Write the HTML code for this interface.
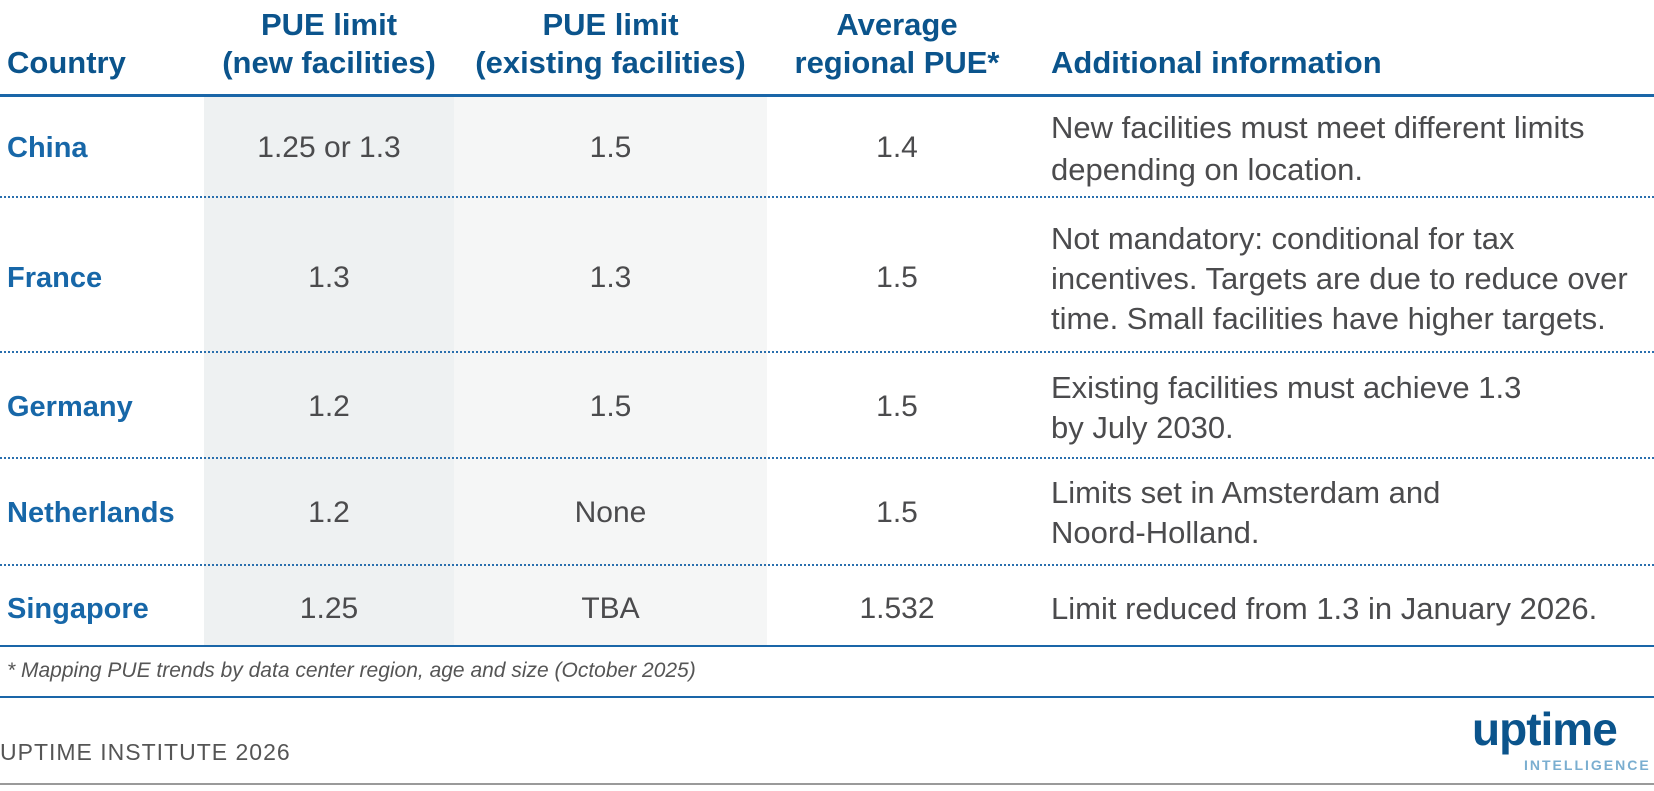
<!DOCTYPE html>
<html><head><meta charset="utf-8"><style>
*{margin:0;padding:0;box-sizing:border-box}
body{width:1654px;height:791px;background:#fff;font-family:"Liberation Sans",sans-serif;position:relative;overflow:hidden}
.a{position:absolute}
.h{color:#0b548c;font-weight:bold;font-size:31px;line-height:38px;text-align:center}
.c{color:#1767a8;font-weight:bold;font-size:29px;left:7px;line-height:40px}
.v{color:#4b4b4d;font-size:30px;text-align:center;line-height:40px}
.i{color:#4b4b4d;font-size:31px;left:1051px;line-height:40px;width:610px;white-space:nowrap}
.dot{position:absolute;left:0;width:1654px;height:0;border-top:2px dotted #2a6fae}
</style></head><body>
<div class="a" style="left:204px;top:96px;width:250px;height:550px;background:#eef1f2"></div>
<div class="a" style="left:454px;top:96px;width:313px;height:550px;background:#f5f6f6"></div>

<div class="a h" style="left:7px;top:44px;text-align:left">Country</div>
<div class="a h" style="left:204px;top:6px;width:250px">PUE limit<br>(new facilities)</div>
<div class="a h" style="left:454px;top:6px;width:313px">PUE limit<br>(existing facilities)</div>
<div class="a h" style="left:767px;top:6px;width:260px">Average<br>regional PUE*</div>
<div class="a h" style="left:1051px;top:44px;text-align:left">Additional information</div>

<div class="a" style="left:0;top:94px;width:1654px;height:3px;background:#1a66a8"></div>
<div class="dot" style="top:196px"></div>
<div class="dot" style="top:351px"></div>
<div class="dot" style="top:457px"></div>
<div class="dot" style="top:564px"></div>
<div class="a" style="left:0;top:645px;width:1654px;height:2px;background:#1a66a8"></div>
<div class="a" style="left:0;top:696px;width:1654px;height:2px;background:#1a66a8"></div>
<div class="a" style="left:0;top:783px;width:1654px;height:2px;background:#9a9a9a"></div>

<div class="a c" style="top:128px">China</div>
<div class="a v" style="left:204px;width:250px;top:128px">1.25 or 1.3</div>
<div class="a v" style="left:454px;width:313px;top:128px">1.5</div>
<div class="a v" style="left:767px;width:260px;top:128px">1.4</div>
<div class="a i" style="top:107px;line-height:42px">New facilities must meet different limits<br>depending on location.</div>

<div class="a c" style="top:258px">France</div>
<div class="a v" style="left:204px;width:250px;top:258px">1.3</div>
<div class="a v" style="left:454px;width:313px;top:258px">1.3</div>
<div class="a v" style="left:767px;width:260px;top:258px">1.5</div>
<div class="a i" style="top:219px">Not mandatory: conditional for tax<br>incentives. Targets are due to reduce over<br>time. Small facilities have higher targets.</div>

<div class="a c" style="top:387px">Germany</div>
<div class="a v" style="left:204px;width:250px;top:387px">1.2</div>
<div class="a v" style="left:454px;width:313px;top:387px">1.5</div>
<div class="a v" style="left:767px;width:260px;top:387px">1.5</div>
<div class="a i" style="top:368px">Existing facilities must achieve 1.3<br>by July 2030.</div>

<div class="a c" style="top:493px">Netherlands</div>
<div class="a v" style="left:204px;width:250px;top:493px">1.2</div>
<div class="a v" style="left:454px;width:313px;top:493px">None</div>
<div class="a v" style="left:767px;width:260px;top:493px">1.5</div>
<div class="a i" style="top:473px">Limits set in Amsterdam and<br>Noord-Holland.</div>

<div class="a c" style="top:589px">Singapore</div>
<div class="a v" style="left:204px;width:250px;top:589px">1.25</div>
<div class="a v" style="left:454px;width:313px;top:589px">TBA</div>
<div class="a v" style="left:767px;width:260px;top:589px">1.532</div>
<div class="a i" style="top:589px">Limit reduced from 1.3 in January 2026.</div>

<div class="a" style="left:7px;top:659px;font-size:21px;font-style:italic;color:#555">* Mapping PUE trends by data center region, age and size (October 2025)</div>
<div class="a" style="left:0;top:739px;font-size:23px;color:#555;letter-spacing:1px">UPTIME INSTITUTE 2026</div>
<div class="a" style="left:1472px;top:706px;font-size:46px;line-height:46px;font-weight:bold;color:#0b548c;letter-spacing:-1px">uptime</div>
<div class="a" style="left:1524px;top:758px;font-size:14px;line-height:14px;font-weight:bold;color:#7aaed0;letter-spacing:2px">INTELLIGENCE</div>
</body></html>
